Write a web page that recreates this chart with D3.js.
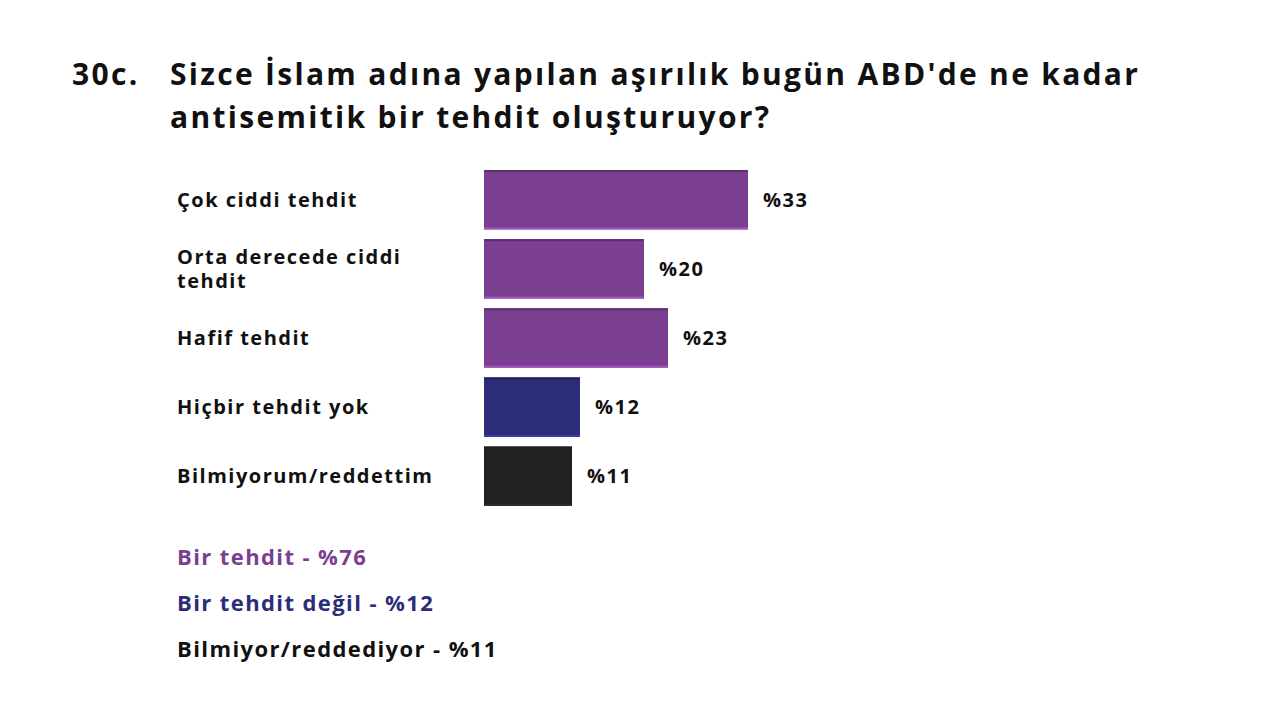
<!DOCTYPE html><html><head><meta charset="utf-8"><script src="https://cdn.jsdelivr.net/npm/d3@7"></script>
<style>body{margin:0;background:#fff}text{font-family:"Open Sans",sans-serif;font-weight:700}</style></head><body><svg id="c" width="1280" height="720"></svg><script>
const categories=[["Çok ciddi tehdit"],["Orta derecede ciddi","tehdit"],["Hafif tehdit"],["Hiçbir tehdit yok"],["Bilmiyorum/reddettim"]];
const values=[33,20,23,12,11];
const barColors=["#7b3f91","#7b3f91","#7b3f91","#2b2d78","#222222"];
const summaries=["Bir tehdit - %76","Bir tehdit değil - %12","Bilmiyor/reddediyor - %11"];
const summaryColors=["#7b3f91","#2b2d78","#111111"];
const svg=d3.select("#c");
const title=(x,y,t)=>svg.append("text").attr("x",x).attr("y",y).attr("font-size",30).attr("letter-spacing",2.3).attr("fill","#111").text(t);
title(72,85,"30c.");
title(170,85,"Sizce İslam adına yapılan aşırılık bugün ABD'de ne kadar");
title(170,128,"antisemitik bir tehdit oluşturuyor?");
const x=d3.scaleLinear().domain([0,33]).range([484,748]);
const y=d3.scaleBand().domain(d3.range(values.length)).range([170,506]).paddingInner(0.14).paddingOuter(0);
const g=svg.append("g");
values.forEach((v,i)=>{
  g.append("rect").attr("x",x(0)).attr("y",y(i)).attr("width",x(v)-x(0)).attr("height",y.bandwidth()).attr("fill",barColors[i]);
  g.append("rect").attr("x",x(0)).attr("y",y(i)).attr("width",x(v)-x(0)).attr("height",2).attr("fill",d3.color(barColors[i]).darker(0.8));
  g.append("rect").attr("x",x(0)).attr("y",y(i)+y.bandwidth()-2).attr("width",x(v)-x(0)).attr("height",2).attr("fill",d3.color(barColors[i]).brighter(0.8));
  const cy=y(i)+y.bandwidth()/2;
  g.append("text").attr("x",x(v)+15).attr("y",cy).attr("dy","0.35em").attr("font-size",20).attr("letter-spacing",1.5).attr("fill","#111").text("%"+v);
  const lines=categories[i];
  lines.forEach((l,j)=>{
    g.append("text").attr("x",177).attr("y",cy+(j-(lines.length-1)/2)*24).attr("dy","0.35em").attr("font-size",20).attr("letter-spacing",1.5).attr("fill","#111").text(l);
  });
});
summaries.forEach((s,i)=>{
  svg.append("text").attr("x",177).attr("y",557+i*46).attr("dy","0.35em").attr("font-size",22).attr("letter-spacing",1.4).attr("fill",summaryColors[i]).text(s);
});
</script></body></html>
